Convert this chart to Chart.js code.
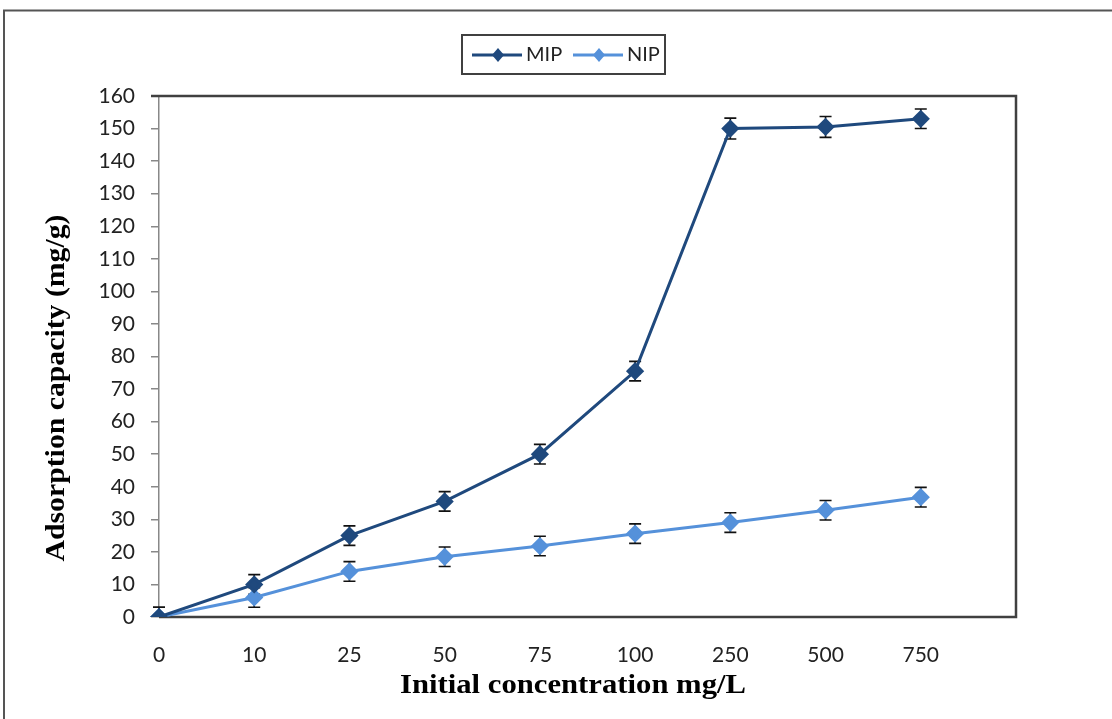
<!DOCTYPE html>
<html>
<head>
<meta charset="utf-8">
<script src="https://cdn.jsdelivr.net/npm/chart.js@4"></script>
<style>
  body { margin: 0; background: #fff; }
  #wrap { position: relative; width: 1112px; height: 719px; }
</style>
</head>
<body>
<div id="wrap"><canvas id="chart" width="1112" height="719"></canvas></div>
<script>
// data
const categories = ['0', '10', '25', '50', '75', '100', '250', '500', '750'];
const mipValues = [0, 10, 25, 35.5, 50, 75.5, 150, 150.5, 153];
const nipValues = [0, 6, 14, 18.5, 21.8, 25.6, 29, 32.8, 36.8];
const mipErrors = [3, 3, 3, 3, 3, 3, 3.2, 3.2, 3];
const nipErrors = [3, 3, 3, 3, 3, 3, 3, 3, 3];
const yTicks = { min: 0, max: 160, step: 10 };

const MIP_COLOR = '#1F497D';
const NIP_COLOR = '#5591DA';
const tickFont = { family: 'Lato', size: 21 };

// plot box, error bars, legend, axis titles
const decor = {
  id: 'decor',
  beforeDatasetsDraw(chart) {
    const { ctx, chartArea: a, scales } = chart;
    ctx.save();
    // dark border on top, right and bottom of plot
    ctx.strokeStyle = '#404040';
    ctx.lineWidth = 2.5;
    ctx.beginPath();
    ctx.moveTo(151, a.top);
    ctx.lineTo(a.right, a.top);
    ctx.lineTo(a.right, a.bottom);
    ctx.lineTo(a.left, a.bottom);
    ctx.stroke();

    // error bars
    ctx.strokeStyle = '#111';
    ctx.lineWidth = 1.6;
    const sets = [[mipValues, mipErrors], [nipValues, nipErrors]];
    sets.forEach(([vals, errs]) => {
      vals.forEach((v, i) => {
        const x = scales.x.getPixelForValue(i);
        const y1 = scales.y.getPixelForValue(v + errs[i]);
        const y2 = scales.y.getPixelForValue(Math.max(0, v - errs[i]));
        ctx.beginPath();
        ctx.moveTo(x, y1); ctx.lineTo(x, y2);
        ctx.moveTo(x - 6, y1); ctx.lineTo(x + 6, y1);
        if (v - errs[i] > 0) { ctx.moveTo(x - 6, y2); ctx.lineTo(x + 6, y2); }
        ctx.stroke();
      });
    });
    ctx.restore();
  },
  afterDraw(chart) {
    const { ctx } = chart;
    ctx.save();
    // outer figure frame
    ctx.strokeStyle = '#555';
    ctx.lineWidth = 2;
    ctx.beginPath();
    ctx.moveTo(4, 719); ctx.lineTo(4, 10.5); ctx.lineTo(1112, 10.5);
    ctx.stroke();

    // legend
    ctx.strokeStyle = '#404040';
    ctx.lineWidth = 2;
    ctx.strokeRect(462, 35, 203, 39);
    const items = [['MIP', MIP_COLOR, 472], ['NIP', NIP_COLOR, 573]];
    ctx.font = '20px Lato';
    ctx.textBaseline = 'middle';
    ctx.textAlign = 'left';
    items.forEach(([label, color, x0]) => {
      ctx.strokeStyle = color;
      ctx.lineWidth = 3;
      ctx.beginPath(); ctx.moveTo(x0, 55); ctx.lineTo(x0 + 50, 55); ctx.stroke();
      ctx.fillStyle = color;
      const cx = x0 + 26;
      ctx.beginPath();
      ctx.moveTo(cx, 48); ctx.lineTo(cx + 6, 55); ctx.lineTo(cx, 62); ctx.lineTo(cx - 6, 55);
      ctx.closePath(); ctx.fill();
      ctx.fillStyle = '#222';
      ctx.fillText(label, x0 + 54, 55);
    });

    // axis titles
    ctx.fillStyle = '#000';
    ctx.font = 'bold 28px "Liberation Serif"';
    ctx.textAlign = 'center';
    const drawTitle = (text, cx, cy, width, rot) => {
      const w = ctx.measureText(text).width;
      ctx.save();
      ctx.translate(cx, cy);
      ctx.rotate(rot);
      ctx.scale(width / w, 1);
      ctx.fillText(text, 0, 0);
      ctx.restore();
    };
    drawTitle('Initial concentration mg/L', 573, 686, 346, 0);
    drawTitle('Adsorption capacity (mg/g)', 57, 388, 347, -Math.PI / 2);
    ctx.restore();
  }
};

new Chart(document.getElementById('chart'), {
  type: 'line',
  data: {
    labels: [...categories, ''],
    datasets: [
      {
        label: 'MIP', data: mipValues,
        borderColor: MIP_COLOR, backgroundColor: MIP_COLOR,
        borderWidth: 3, pointStyle: 'rectRot', pointRadius: 7, tension: 0
      },
      {
        label: 'NIP', data: nipValues,
        borderColor: NIP_COLOR, backgroundColor: NIP_COLOR,
        borderWidth: 3, pointStyle: 'rectRot', pointRadius: 7, tension: 0
      }
    ]
  },
  options: {
    responsive: false,
    animation: false,
    layout: { padding: { top: 96, right: 96, left: 0, bottom: 0 } },
    plugins: { legend: { display: false }, tooltip: { enabled: false } },
    scales: {
      x: {
        type: 'category',
        offset: false,
        grid: { display: false, drawTicks: false },
        border: { display: false },
        ticks: { font: tickFont, color: '#222', padding: 26, maxRotation: 0, autoSkip: false },
        afterFit: s => { s.height = 102; }
      },
      y: {
        min: yTicks.min, max: yTicks.max,
        grid: { drawOnChartArea: false, color: '#888', tickLength: 8, lineWidth: 1.5 },
        border: { color: '#888', width: 1.5 },
        ticks: { stepSize: yTicks.step, font: tickFont, color: '#222', padding: 16 },
        afterFit: s => { s.width = 159; }
      }
    }
  },
  plugins: [decor]
});
</script>
</body>
</html>
